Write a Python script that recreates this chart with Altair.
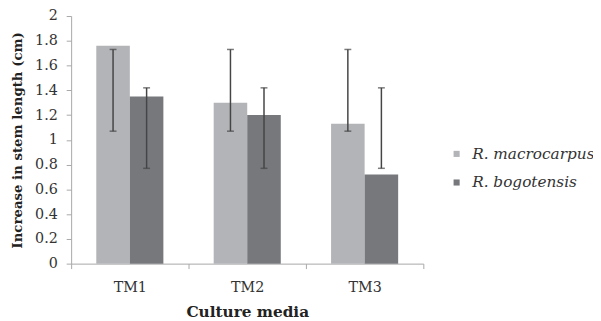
import altair as alt
import pandas as pd

media = ["TM1", "TM2", "TM3"]
species = ["R. macrocarpus", "R. bogotensis"]
mean_macro = [1.76, 1.30, 1.13]
mean_bogo = [1.35, 1.20, 0.72]
low_macro = [1.07, 1.07, 1.07]
high_macro = [1.73, 1.73, 1.73]
low_bogo = [0.77, 0.77, 0.77]
high_bogo = [1.42, 1.42, 1.42]
y_ticks = [0.0, 0.2, 0.4, 0.6, 0.8, 1.0, 1.2, 1.4, 1.6, 1.8, 2.0]

rows = []
for i, m in enumerate(media):
    rows.append({"media": m, "species": species[0], "value": mean_macro[i],
                 "low": low_macro[i], "high": high_macro[i]})
    rows.append({"media": m, "species": species[1], "value": mean_bogo[i],
                 "low": low_bogo[i], "high": high_bogo[i]})
df = pd.DataFrame(rows)

FONT = "DejaVu Serif"

x_axis = alt.Axis(labelAngle=0, tickBand="extent", tickSize=5,
                  labelFont=FONT, labelFontSize=14.5, labelColor="#333333",
                  labelPadding=12, titleFont=FONT, titleFontSize=15.5,
                  titleFontWeight="bold", titleColor="#222222", titlePadding=11,
                  domainColor="#a8a8a8", tickColor="#a8a8a8")
y_axis = alt.Axis(values=y_ticks, format="~g", grid=False, tickSize=5,
                  labelOverlap=False,
                  labelFont=FONT, labelFontSize=14.5, labelColor="#333333",
                  labelPadding=9, titleFont=FONT, titleFontSize=13.5,
                  titleFontWeight="bold", titleColor="#222222", titlePadding=10,
                  domainColor="#a8a8a8", tickColor="#a8a8a8")
y_scale = alt.Scale(domain=[0, 2], nice=False)
Y_TITLE = "Increase in stem length (cm)"


def xe():
    return alt.X("media:N", sort=media, title="Culture media",
                 scale=alt.Scale(paddingInner=0, paddingOuter=0), axis=x_axis)


def ye(field):
    return alt.Y(field, title=Y_TITLE, scale=y_scale, axis=y_axis)


xoff = alt.XOffset("species:N", sort=species,
                   scale=alt.Scale(paddingInner=0, paddingOuter=0.75))

base = alt.Chart(df)

bars = base.mark_bar().encode(
    x=xe(),
    xOffset=xoff,
    y=ye("value:Q"),
    color=alt.Color("species:N", sort=species,
                    scale=alt.Scale(domain=species, range=["#b3b4b8", "#77787c"]),
                    legend=alt.Legend(title=None, orient="none", legendX=383, legendY=132,
                                      symbolType="square", symbolSize=38, rowPadding=12,
                                      labelFont=FONT, labelFontSize=15.5,
                                      labelFontStyle="italic", labelColor="#333333",
                                      labelOffset=8)),
)

rules = base.mark_rule(color="#454545", strokeWidth=1.5).encode(
    x=xe(), xOffset=xoff, y=ye("low:Q"), y2="high:Q")
cap_low = base.mark_tick(color="#454545", size=7, thickness=1.5).encode(
    x=xe(), xOffset=xoff, y=ye("low:Q"))
cap_high = base.mark_tick(color="#454545", size=7, thickness=1.5).encode(
    x=xe(), xOffset=xoff, y=ye("high:Q"))

chart = alt.layer(bars, rules, cap_low, cap_high).properties(
    width=357, height=251,
    autosize=alt.AutoSizeParams(type="none"),
    padding={"left": 64, "top": 6, "right": 172, "bottom": 56},
).configure(
    background="white",
    view=alt.ViewConfig(stroke=None),
    axis=alt.AxisConfig(labelOverlap=False),
    axisY=alt.AxisConfig(labelOverlap=False),
)

chart.save("out.html", embed_options={"renderer": "svg", "actions": False})
